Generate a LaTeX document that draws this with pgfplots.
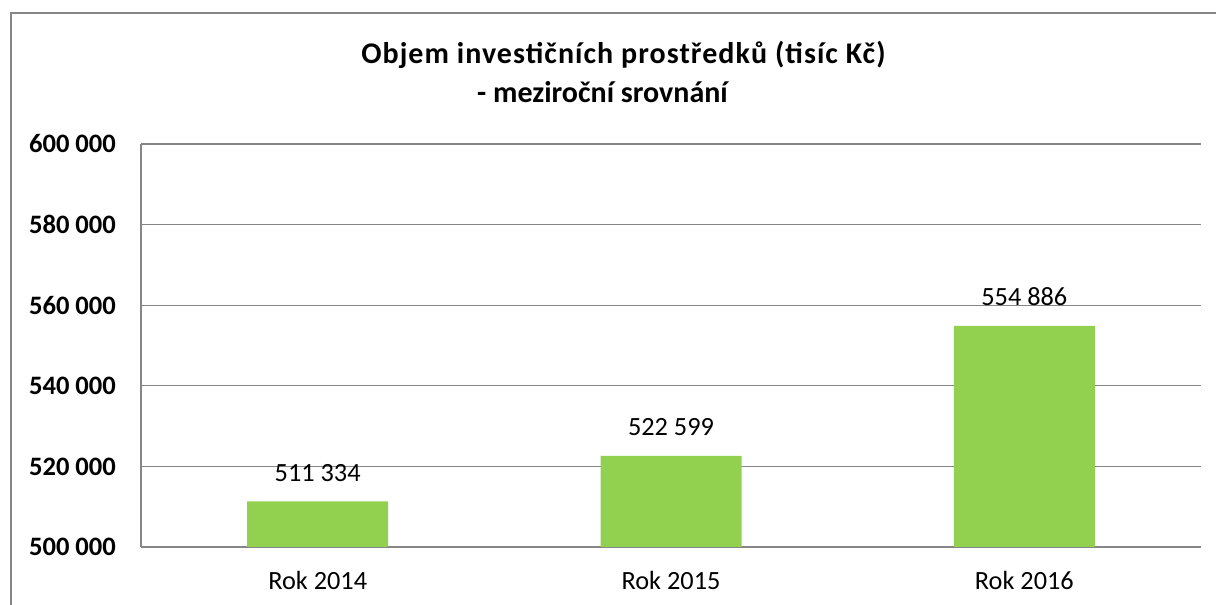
\documentclass[border=0pt]{standalone}
\usepackage{fontspec}
\setmainfont{Carlito}
\usepackage{pgfplots}
\pgfplotsset{compat=1.18}
\definecolor{bargreen}{HTML}{92D050}
\definecolor{gridgray}{HTML}{868686}
\begin{document}
\begin{tikzpicture}
\useasboundingbox (0,0) rectangle (608pt,302.5pt);
\draw[gridgray, line width=1pt] (5.5pt,-20pt) -- (5.5pt,296pt) -- (640pt,296pt);
\node[anchor=base, font=\fontsize{15}{18}\selectfont\bfseries\addfontfeatures{LetterSpace=3.5}] at (311.75pt,270.5pt) {Objem investičních prostředků (tisíc Kč)};
\node[anchor=base, font=\fontsize{15}{18}\selectfont\bfseries] at (301.25pt,251pt) {- meziroční srovnání};
\begin{axis}[
  at={(70.5pt,29pt)}, anchor=south west,
  scale only axis, width=530pt, height=201.5pt,
  xmin=-0.5, xmax=2.5, ymin=500000, ymax=600000,
  axis x line*=bottom, axis y line*=left,
  axis line style={gridgray, line width=0.6pt},
  ymajorgrids, major grid style={gridgray, line width=0.6pt},
  major tick length=0pt,
  xtick=data, xticklabels={Rok 2014, Rok 2015, Rok 2016},
  ytick={500000,520000,540000,560000,580000,600000},
  yticklabels={500 000,520 000,540 000,560 000,580 000,600 000},
  yticklabel style={font=\fontsize{13.3}{15}\selectfont\bfseries, anchor=east, xshift=-9pt},
  xticklabel style={font=\fontsize{13.15}{15}\selectfont, anchor=base, yshift=-21.5pt},
  scaled y ticks=false,
  ybar, bar width=70.5pt,
  nodes near coords,
  every node near coord/.append style={font=\fontsize{13.15}{15}\selectfont, anchor=base, yshift=10pt},
  /pgf/number format/.cd, assume math mode=true, 1000 sep={\ }, fixed,
]
\addplot[fill=bargreen, draw=none] coordinates {(0,511334) (1,522599) (2,554886)};
\end{axis}
\end{tikzpicture}
\end{document}
